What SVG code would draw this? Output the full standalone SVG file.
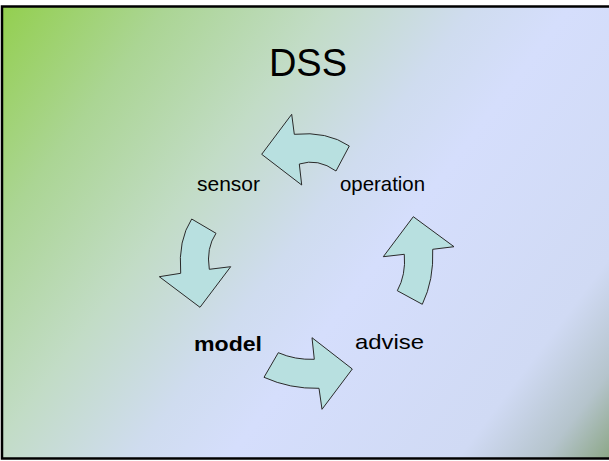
<svg xmlns="http://www.w3.org/2000/svg" width="609" height="461" viewBox="0 0 609 461">
  <defs>
    <linearGradient id="slideBg" gradientUnits="userSpaceOnUse" x1="0" y1="0" x2="609" y2="461">
      <stop offset="0" stop-color="#92cf4c"/>
      <stop offset="0.18" stop-color="#abd594"/>
      <stop offset="0.35" stop-color="#c2dcc6"/>
      <stop offset="0.5" stop-color="#cfdcef"/>
      <stop offset="0.6" stop-color="#d5defc"/>
      <stop offset="0.84" stop-color="#d0daf4"/>
      <stop offset="0.93" stop-color="#b5c4cc"/>
      <stop offset="1" stop-color="#8ba685"/>
    </linearGradient>
    <style>
      .arrow { fill: #b8e0e0; stroke: #2a2a2a; stroke-width: 1; stroke-linejoin: miter; }
      .label { font-family: "Liberation Sans", Arial, sans-serif; font-size: 21px; fill: #000; }
      .title { font-family: "Liberation Sans", Arial, sans-serif; font-size: 38px; fill: #000; }
    </style>
  </defs>

  <!-- page and slide background -->
  <rect x="0" y="0" width="609" height="461" fill="#ffffff"/>
  <rect x="2" y="6.5" width="612" height="452" fill="url(#slideBg)" stroke="#000" stroke-width="2.5"/>

  <!-- title -->
  <text class="title" x="308" y="76" text-anchor="middle">DSS</text>

  <!-- cycle nodes -->
  <g id="sensor">
    <text class="label" x="197" y="191" textLength="63" lengthAdjust="spacingAndGlyphs">sensor</text>
  </g>
  <g id="operation">
    <text class="label" x="340" y="191" textLength="85" lengthAdjust="spacingAndGlyphs">operation</text>
  </g>
  <g id="model">
    <text class="label" x="194" y="351" font-weight="bold" font-size="22" textLength="68" lengthAdjust="spacingAndGlyphs">model</text>
  </g>
  <g id="advise">
    <text class="label" x="355" y="349" textLength="69" lengthAdjust="spacingAndGlyphs">advise</text>
  </g>

  <!-- curved block arrows joining the cycle -->
  <g id="connectors">
    <!-- operation to sensor -->
    <path class="arrow" d="M261.7,154.3 L291.7,114.3 L294.3,134.3 Q327,131 349.3,146 L336,171 Q318,158 299.3,164 L301.7,185 Z"/>
    <!-- sensor to model -->
    <path class="arrow" d="M191.7,219 L216,233.3 Q206,248 209.3,269.3 L230.7,266.7 L200,307.3 L159.3,276.7 L180.7,273.3 Q178,240 191.7,219 Z"/>
    <!-- model to advise -->
    <path class="arrow" d="M278.3,352.7 Q295,360 314.3,359.3 L312,337.7 L352.3,369 L322,409.3 L319,388.3 Q290,389 264,377.3 Z"/>
    <!-- advise to operation -->
    <path class="arrow" d="M413.3,216.7 L454,246.7 L432.7,249.3 Q434,280 422.3,304.3 L397.3,290.7 Q406,275 404.3,254.3 L383.3,256.7 Z"/>
  </g>
</svg>
